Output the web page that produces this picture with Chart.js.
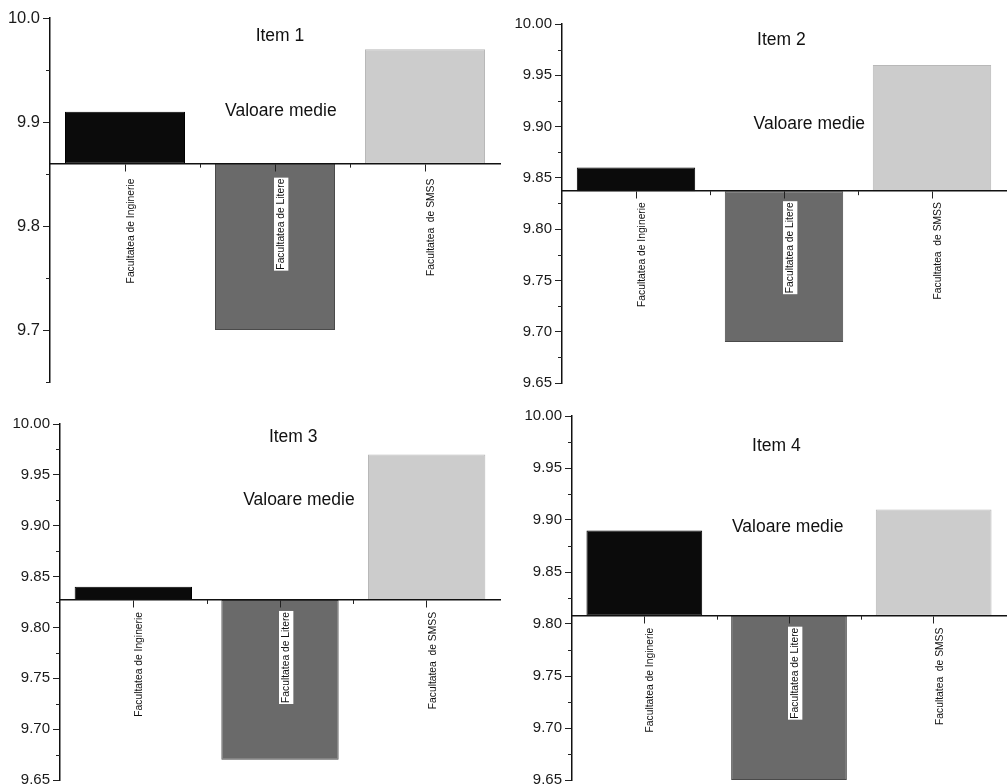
<!DOCTYPE html>
<html>
<head>
<meta charset="utf-8">
<script src="https://cdn.jsdelivr.net/npm/chart.js@4"></script>
<style>
    html, body { margin: 0; padding: 0; background: #fff; overflow: hidden; }
    body { width: 1007px; height: 784px; position: relative; }
    .panel { position: absolute; }
</style>
</head>
<body>
<div class="panel" style="left:0;top:0;width:503px;height:395px"><canvas id="item1"></canvas></div>
<div class="panel" style="left:503px;top:0;width:504px;height:395px"><canvas id="item2"></canvas></div>
<div class="panel" style="left:0;top:398px;width:503px;height:394px"><canvas id="item3"></canvas></div>
<div class="panel" style="left:503px;top:398px;width:504px;height:394px"><canvas id="item4"></canvas></div>
<script>
// date
const categorii = ["Facultatea de Inginerie", "Facultatea de Litere", "Facultatea  de SMSS"];
const item1 = [9.91, 9.70, 9.97];
const item2 = [9.86, 9.69, 9.96];
const item3 = [9.84, 9.67, 9.97];
const item4 = [9.89, 9.65, 9.91];
const valoriMedii = [9.86, 9.837, 9.827, 9.808];
const titluri = ["Item 1", "Item 2", "Item 3", "Item 4"];
const eticheta = "Valoare medie";
const ticksItem1 = [9.7, 9.8, 9.9, 10.0];
const ticksItem234 = [9.65, 9.70, 9.75, 9.80, 9.85, 9.90, 9.95, 10.00];

const culori = ["#0b0b0b", "#6a6a6a", "#cccccc"];
const margini = ["#000000", "#4a4a4a", "#b8b8b8"];
const fontFamily = "'Liberation Sans', Arial, sans-serif";

// asezare pe pagina (nu date)
const panouri = [
    { id: "item1", valori: item1, ticks: ticksItem1, zecimale: 1, yWidth: 50, pad: { top: 18, bottom: 10, right: 3, left: 0 }, tickFont: 16.5, labelPad: 8,
      titlu: [0.511, 0.049], medie: [0.513, 0.256] },
    { id: "item2", valori: item2, ticks: ticksItem234, zecimale: 2, yWidth: 59, pad: { top: 24, bottom: 7, right: 1, left: 0 }, tickFont: 15, labelPad: 4,
      titlu: [0.494, 0.044], medie: [0.557, 0.280] },
    { id: "item3", valori: item3, ticks: ticksItem234, zecimale: 2, yWidth: 60, pad: { top: 26, bottom: 10, right: 3, left: 0 }, tickFont: 15, labelPad: 5,
      titlu: [0.530, 0.037], medie: [0.543, 0.213] },
    { id: "item4", valori: item4, ticks: ticksItem234, zecimale: 2, yWidth: 69, pad: { top: 18, bottom: 11, right: 1, left: 0 }, tickFont: 15, labelPad: 5,
      titlu: [0.471, 0.083], medie: [0.497, 0.306] }
];

// text in interiorul graficului + ticks minore
const textePlugin = {
    id: "texte",
    afterDraw(chart, args, opts) {
        const { ctx, chartArea: a, scales: { x, y } } = chart;
        ctx.save();
        ctx.fillStyle = "#111";
        ctx.font = "17.5px " + fontFamily;
        ctx.textAlign = "center";
        ctx.textBaseline = "middle";
        ctx.fillText(opts.titlu, a.left + opts.pozTitlu[0] * (a.right - a.left), a.top + opts.pozTitlu[1] * (a.bottom - a.top));
        ctx.fillText(eticheta, a.left + opts.pozMedie[0] * (a.right - a.left), a.top + opts.pozMedie[1] * (a.bottom - a.top));

        ctx.strokeStyle = "#222";
        ctx.lineWidth = 1;
        ctx.beginPath();
        const vals = opts.ticks;
        const pas = vals[1] - vals[0];
        for (let v = vals[vals.length - 1] - pas / 2; v >= y.min - 1e-9; v -= pas) {
            const py = Math.round(y.getPixelForValue(v)) + 0.5;
            ctx.moveTo(y.right - 4, py);
            ctx.lineTo(y.right, py);
        }
        const baza = y.getPixelForValue(opts.baza);
        for (let i = 0; i < x.ticks.length - 1; i++) {
            const px = Math.round((x.getPixelForTick(i) + x.getPixelForTick(i + 1)) / 2) + 0.5;
            ctx.moveTo(px, baza);
            ctx.lineTo(px, baza + 4);
        }
        ctx.stroke();
        ctx.restore();
    }
};

panouri.forEach((p, k) => {
    const medie = valoriMedii[k];
    new Chart(document.getElementById(p.id), {
        type: "bar",
        data: {
            labels: categorii,
            datasets: [{
                data: p.valori.map(v => [medie, v]),
                backgroundColor: culori,
                borderColor: margini,
                borderWidth: 1,
                borderSkipped: false,
                barPercentage: 0.8,
                categoryPercentage: 1
            }]
        },
        options: {
            responsive: true,
            maintainAspectRatio: false,
            animation: false,
            layout: { padding: p.pad },
            plugins: {
                legend: { display: false },
                tooltip: { enabled: false },
                texte: { titlu: titluri[k], pozTitlu: p.titlu, pozMedie: p.medie, ticks: p.ticks, baza: medie }
            },
            scales: {
                x: {
                    position: { y: medie },
                    offset: true,
                    border: { display: true, color: "#111", width: 1.5, z: 1 },
                    grid: { display: true, offset: false, drawOnChartArea: false, drawTicks: true, tickLength: 7, color: "#222", z: 1 },
                    ticks: {
                        z: 1,
                        autoSkip: false,
                        minRotation: 90,
                        maxRotation: 90,
                        padding: p.labelPad,
                        color: "#111",
                        font: { family: fontFamily, size: 10.3 },
                        showLabelBackdrop: true,
                        backdropColor: "#ffffff",
                        backdropPadding: 1
                    }
                },
                y: {
                    min: 9.65,
                    max: 10.0,
                    afterBuildTicks: scale => { scale.ticks = p.ticks.map(v => ({ value: v })); },
                    afterFit: scale => { scale.width = p.yWidth; },
                    border: { display: true, color: "#111", width: 1.5 },
                    grid: { display: true, drawOnChartArea: false, drawTicks: true, tickLength: 7, color: "#222" },
                    ticks: {
                        padding: 3,
                        color: "#1a1a1a",
                        font: { family: fontFamily, size: p.tickFont },
                        callback: v => Number(v).toFixed(p.zecimale)
                    }
                }
            }
        },
        plugins: [textePlugin]
    });
});
</script>
</body>
</html>
